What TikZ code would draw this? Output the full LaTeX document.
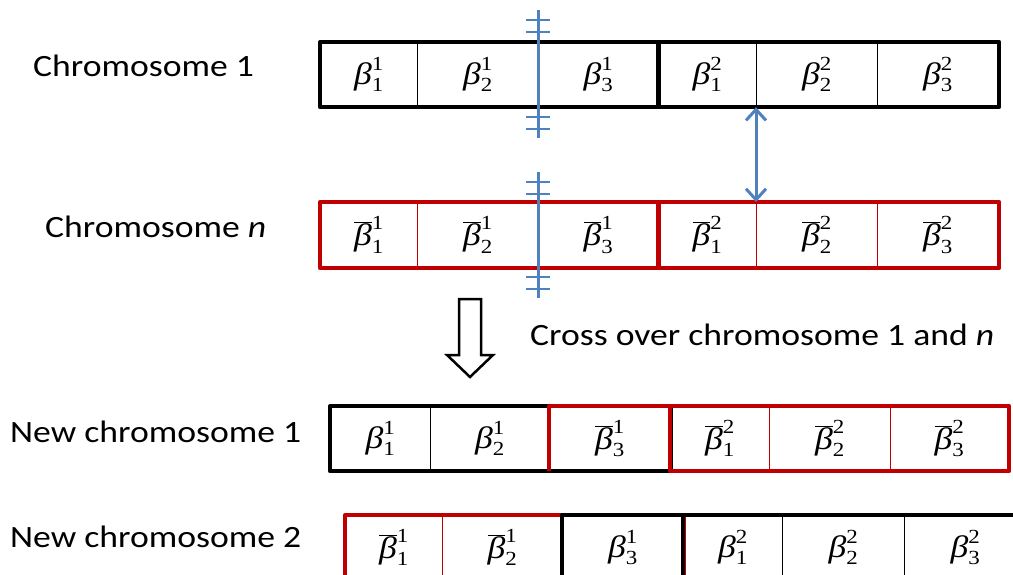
\documentclass[tikz,border=0pt]{standalone}
\usepackage{fontspec}
\usepackage{graphicx}
\setmainfont{Carlito}
\newfontfamily\serif{Liberation Serif}
\usetikzlibrary{arrows.meta}
\definecolor{cred}{RGB}{192,0,0}
\definecolor{cblue}{RGB}{79,129,189}
\newcommand\gsz{\fontsize{31}{34}\selectfont}
\newcommand\gscr{\fontsize{20}{22}\selectfont}
\newcommand\wide[1]{\scalebox{1.15}[1]{#1}}
\newcommand\gb[2]{\wide{\gsz$\mbox{\serif\itshape β}_{\mbox{\serif\gscr #1}}^{\mbox{\serif\gscr #2}}$}}
\newcommand\gbb[2]{\wide{\gsz$\overline{\mbox{\serif\itshape β}}_{\mbox{\serif\gscr #1}}^{\mbox{\serif\gscr #2}}$}}
\tikzset{
  cellk/.style={draw=black, line width=1.2pt, minimum height=64pt, inner sep=0pt, anchor=north west},
  cellr/.style={draw=cred, line width=1.2pt, minimum height=64pt, inner sep=0pt, anchor=north west},
  thickk/.style={draw=black, line width=4pt, line join=round},
  thickr/.style={draw=cred, line width=4pt, line join=round},
  cut/.style={draw=cblue, line width=3pt},
  tick/.style={draw=cblue, line width=2.5pt},
  lbl/.style={anchor=base west, inner sep=0pt, font=\fontsize{31}{34}\selectfont},
  swap/.style={draw=cblue, line width=3pt, {Straight Barb[length=11pt,width=20pt]}-{Straight Barb[length=11pt,width=20pt]}},
  hollow/.style={draw=black, line width=2.5pt, line join=miter, fill=white}
}
\begin{document}
\begin{tikzpicture}[x=1pt,y=-1pt]
\useasboundingbox (0,0) rectangle (1013,575);
\clip (0,0) rectangle (1013,575);

% labels
\node[lbl] (l1) at (33,77) {\wide{Chromosome 1}};
\node[lbl] (l2) at (45,237) {\wide{Chromosome \textit{n}}};
\node[lbl] (l3) at (530,345) {\wide{Cross over chromosome 1 and \textit{n}}};
\node[lbl] (l4) at (10,442) {\wide{New chromosome 1}};
\node[lbl] (l5) at (10,547) {\wide{New chromosome 2}};

% Chromosome 1
\node[cellk, minimum width=97pt]  (a1) at (320,42) {\gb11};
\node[cellk, minimum width=121pt] (a2) at (417,42) {\gb21};
\node[cellk, minimum width=120pt] (a3) at (538,42) {\gb31};
\node[cellk, minimum width=98pt]  (a4) at (658,42) {\gb12};
\node[cellk, minimum width=121pt] (a5) at (756,42) {\gb22};
\node[cellk, minimum width=121pt] (a6) at (877,42) {\gb32};
\draw[thickk] (a1.north west) rectangle (a3.south east);
\draw[thickk] (a4.north west) rectangle (a6.south east);

% Chromosome n
\node[cellr, minimum width=97pt, minimum height=65pt]  (b1) at (320,202) {\gbb11};
\node[cellr, minimum width=121pt, minimum height=65pt] (b2) at (417,202) {\gbb21};
\node[cellr, minimum width=120pt, minimum height=65pt] (b3) at (538,202) {\gbb31};
\node[cellr, minimum width=98pt, minimum height=65pt]  (b4) at (658,202) {\gbb12};
\node[cellr, minimum width=121pt, minimum height=65pt] (b5) at (756,202) {\gbb22};
\node[cellr, minimum width=121pt, minimum height=65pt] (b6) at (877,202) {\gbb32};
\draw[thickr] (b1.north west) rectangle (b3.south east);
\draw[thickr] (b4.north west) rectangle (b6.south east);

% crossover cut lines
\coordinate (c1t) at (538,10);
\coordinate (c1b) at (538,138);
\draw[cut] (c1t) -- (c1b);
\foreach \yy in {20,32,117,129} \draw[tick] (526,\yy) -- (550,\yy);
\coordinate (c2t) at (538,172);
\coordinate (c2b) at (538,298);
\draw[cut] (c2t) -- (c2b);
\foreach \yy in {182,194,277,289} \draw[tick] (526,\yy) -- (550,\yy);

% swap arrow
\draw[swap] (a5.south west) -- (b5.north west);

% hollow down arrow
\draw[hollow] (459,299) -- (481,299) -- (481,355) -- (493,355) -- (470,377) -- (447,355) -- (459,355) -- cycle;

% New chromosome 1
\node[cellk, minimum width=100pt] (n1) at (330,406) {\gb11};
\node[cellk, minimum width=119pt] (n2) at (430,406) {\gb21};
\node[cellr, minimum width=121pt] (n3) at (549,406) {\gbb31};
\node[cellr, minimum width=99pt]  (n4) at (670,406) {\gbb12};
\node[cellr, minimum width=121pt] (n5) at (769,406) {\gbb22};
\node[cellr, minimum width=118pt] (n6) at (890,406) {\gbb32};
\draw[thickk] (n1.north west) rectangle (n3.south east);
\draw[thickr] (n3.south west) -- (n3.north west) -- (n3.north east);
\draw[thickr] (n4.north west) rectangle (n6.south east);

% New chromosome 2
\node[cellr, minimum width=97pt]  (m1) at (345,515) {\gbb11};
\node[cellr, minimum width=120pt] (m2) at (442,515) {\gbb21};
\node[cellk, minimum width=121pt] (m3) at (562,515) {\gb31};
\node[cellk, minimum width=99pt]  (m4) at (683,515) {\gb12};
\node[cellk, minimum width=122pt] (m5) at (782,515) {\gb22};
\node[cellk, minimum width=122pt] (m6) at (904,515) {\gb32};
\draw[thickr] (m1.north west) rectangle (m3.south east);
\draw[thickk] (m3.south west) -- (m3.north west) -- (m3.north east);
\draw[thickk] (m4.north west) rectangle (m6.south east);
\end{tikzpicture}
\end{document}
